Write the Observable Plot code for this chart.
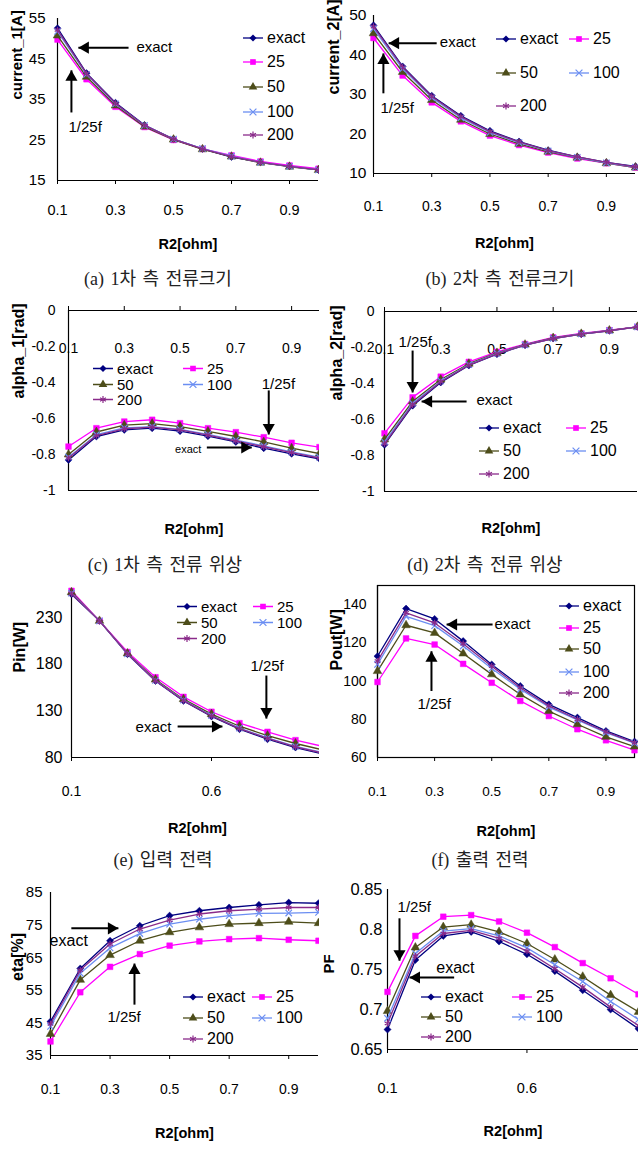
<!DOCTYPE html>
<html><head><meta charset="utf-8">
<script src="https://cdn.jsdelivr.net/npm/d3@7"></script>
<script src="https://cdn.jsdelivr.net/npm/@observablehq/plot@0.6"></script>
<style>
body{margin:0;background:#fff;}
#root{position:relative;width:638px;height:1149px;overflow:hidden;font-family:"Liberation Sans",Arial,sans-serif;}
.panel{position:absolute;}
.caption{position:absolute;transform:translate(-50%,-50%);font-family:"Liberation Serif","Noto Sans CJK KR",serif;font-size:18px;word-spacing:2px;white-space:nowrap;color:#222;}
.litem{position:absolute;display:flex;align-items:center;white-space:nowrap;transform:translateY(-50%);color:#000;}
.litem svg{margin-right:4px;}
</style></head><body><div id="root"></div>
<script>
const R2 = [0.1,0.2,0.3,0.4,0.5,0.6,0.7,0.8,0.9,1.0];
const seriesNames = ["exact","25","50","100","200"];
const seriesColors = ["#000080","#ff00ff","#4d4d1a","#6b8ef2","#8a2b8a"];
const seriesSymbols = ["diamond2","square","triangle","times","asterisk"];

const current1Values = [
 [52.6,41.5,34.2,28.7,25.2,22.8,20.8,19.5,18.5,17.6],
 [49.8,40.0,33.2,28.2,25.0,22.8,21.2,19.7,18.7,17.9],
 [50.8,40.6,33.5,28.3,25.1,22.7,20.9,19.4,18.4,17.6],
 [51.8,41.2,33.9,28.6,25.2,22.9,21.0,19.5,18.5,17.6],
 [52.2,41.4,34.0,28.6,25.2,22.8,20.9,19.5,18.5,17.6]];
const current2Values = [
 [47.5,37.1,29.7,24.6,20.8,18.1,15.9,14.2,12.8,11.8],
 [44.3,34.8,28.0,23.2,19.6,17.2,15.3,13.8,12.6,11.5],
 [45.5,35.7,28.6,23.6,20.0,17.5,15.5,14.0,12.6,11.5],
 [46.7,36.5,29.2,24.1,20.4,17.8,15.7,14.1,12.7,11.6],
 [47.2,36.9,29.5,24.4,20.6,18.0,15.8,14.2,12.8,11.7]];
const alpha1Values = [
 [-0.83,-0.70,-0.663,-0.654,-0.67,-0.698,-0.73,-0.765,-0.796,-0.824],
 [-0.756,-0.654,-0.617,-0.607,-0.626,-0.654,-0.676,-0.704,-0.735,-0.759],
 [-0.80,-0.675,-0.637,-0.628,-0.645,-0.672,-0.70,-0.73,-0.765,-0.795],
 [-0.815,-0.69,-0.652,-0.645,-0.66,-0.688,-0.72,-0.752,-0.785,-0.815],
 [-0.82,-0.695,-0.657,-0.648,-0.663,-0.692,-0.725,-0.757,-0.79,-0.82]];
const alpha2Values = [
 [-0.74,-0.523,-0.394,-0.30,-0.237,-0.187,-0.15,-0.126,-0.107,-0.085],
 [-0.677,-0.477,-0.362,-0.28,-0.224,-0.181,-0.144,-0.122,-0.104,-0.085],
 [-0.71,-0.50,-0.378,-0.29,-0.23,-0.184,-0.147,-0.124,-0.105,-0.085],
 [-0.725,-0.51,-0.386,-0.295,-0.233,-0.186,-0.149,-0.125,-0.106,-0.085],
 [-0.735,-0.518,-0.39,-0.298,-0.235,-0.187,-0.15,-0.126,-0.107,-0.085]];
const pinValues = [
 [255,226.4,190.7,162,140.7,124,110.4,99.6,90.7,83.6],
 [258.6,226.4,193,166,145,129,116.8,107.5,98.6,91.8],
 [257,226.4,191.5,163.5,142.5,126.5,113.5,103.5,95,88],
 [256,226.4,191,162.5,141.5,125,111.5,101,92,85],
 [255.5,226.4,191,162.2,141,124.5,111,100.5,91.5,84.5]];
const poutValues = [
 [113,137.9,132.5,120.9,108.7,97.4,87.8,80.9,73.9,68.3],
 [99.5,122.3,119.1,109,99.1,89.6,81.7,74.8,69,63.8],
 [105.2,129.2,125.2,114.4,103.5,93,84.3,77.4,70.8,65.7],
 [108.7,133.9,129,118.3,106.6,95.7,86.4,79.7,73,67.5],
 [110.4,135.7,130.4,119.5,107.8,96.5,87,80,73.4,67.8]];
const etaValues = [
 [45.4,61.7,70.2,74.8,77.9,79.4,80.4,81.2,81.9,81.7],
 [39.3,54.4,62.2,66.1,68.7,70,70.7,71,70.5,70.2],
 [41.6,58.2,65.8,70.2,72.8,74.3,75.3,75.6,76,75.6],
 [43.9,60.2,68,72.4,75.3,76.8,77.9,78.6,78.7,78.9],
 [44.7,61.2,69.2,73.8,76.5,78.4,79.4,79.9,80.4,80.4]];
const pfValues = [
 [0.675,0.762,0.792,0.797,0.785,0.769,0.748,0.724,0.70,0.676],
 [0.722,0.792,0.816,0.818,0.810,0.796,0.778,0.758,0.739,0.719],
 [0.698,0.7775,0.803,0.806,0.797,0.7825,0.7625,0.741,0.718,0.697],
 [0.689,0.770,0.798,0.801,0.792,0.777,0.756,0.735,0.71,0.6875],
 [0.6825,0.7667,0.795,0.799,0.789,0.773,0.751,0.728,0.703,0.680]];

const current1Ticks = [15,25,35,45,55];
const current2Ticks = [10,20,30,40,50];
const alphaTicks = [-1,-0.8,-0.6,-0.4,-0.2,0];
const pinTicks = [80,130,180,230];
const poutTicks = [60,80,100,120,140];
const etaTicks = [35,45,55,65,75,85];
const pfTicks = [0.65,0.7,0.75,0.8,0.85];
const xTicksFine = [0.1,0.3,0.5,0.7,0.9];
const xTicksCoarse = [0.1,0.6];

// annotations in data units: arrows [x1,y1,x2,y2] (x2,y2 = tip), notes [text,x,y]
const current1Arrows = [[0.345,47.8,0.172,47.8],[0.148,31.8,0.148,42.2]];
const current1Notes = [["exact",0.372,47.8],["1/25f",0.138,28.1]];
const current2Arrows = [[0.317,43,0.152,43],[0.134,30.3,0.134,40.4]];
const current2Notes = [["exact",0.328,43.2],["1/25f",0.124,26.5]];
const alpha1Arrows = [[0.596,-0.761,0.757,-0.761],[0.818,-0.444,0.818,-0.689]];
const alpha1Notes = [["exact",0.482,-0.772],["1/25f",0.793,-0.411]];
const alpha2Arrows = [[0.2,-0.217,0.2,-0.45],[0.392,-0.5,0.232,-0.5]];
const alpha2Notes = [["1/25f",0.15,-0.172],["exact",0.427,-0.494]];
const pinArrows = [[0.796,167.8,0.796,121.7],[0.479,113.2,0.639,113.2]];
const pinNotes = [["1/25f",0.739,177.5],["exact",0.329,112]];
const poutArrows = [[0.503,129.6,0.342,129.6],[0.289,94.8,0.289,115.6]];
const poutNotes = [["exact",0.51,129.6],["1/25f",0.24,88]];
const etaArrows = [[0.17,74,0.328,74],[0.382,50.6,0.382,63.2]];
const etaNotes = [["exact",0.097,70.3],["1/25f",0.291,46.7]];
const pfArrows = [[0.143,0.814,0.143,0.761],[0.339,0.74,0.179,0.74]];
const pfNotes = [["1/25f",0.136,0.8275],["exact",0.275,0.7525]];

const panels = [
 {values:current1Values, yDomain:[15,55], yTicks:current1Ticks, xTicks:xTicksFine, yLabel:"current_1[A]",
  left:0, top:0, width:319, height:262, mt:18, mr:1, mb:82, ml:57, xPad:20, yPad:12, yFont:15, xFont:14.5, yLabelFont:15,
  yLabelDx:-40, yLabelDy:0, xLabelDy:68,
  axisTop:false, frame:false, arrows:current1Arrows, notes:current1Notes, noteSizes:[15,15], legendFont:16,
  legendPos:[[243,38],[243,62],[243,87],[243,112],[243,135]], caption:"(a) 1차 측 전류크기", capX:158, capY:277},
 {values:current2Values, yDomain:[10,50], yTicks:current2Ticks, xTicks:xTicksFine, yLabel:"current_2[A]",
  left:319, top:0, width:319, height:262, mt:15, mr:3, mb:89, ml:54, xPad:24, yPad:7, yFont:15.5, xFont:14, yLabelFont:16,
  yLabelDx:-40, yLabelDy:0, xLabelDy:74,
  axisTop:false, frame:false, arrows:current2Arrows, notes:current2Notes, noteSizes:[15,15], legendFont:16,
  legendPos:[[496,39],[569,39],[496,73],[569,73],[496,106]], caption:"(b) 2차 측 전류크기", capX:500, capY:277},
 {values:alpha1Values, yDomain:[-1,0], yTicks:alphaTicks, xTicks:xTicksFine, yLabel:"alpha_1[rad]",
  left:0, top:290, width:319, height:262, mt:20, mr:0, mb:62, ml:68, xPad:0, yPad:13, yFont:14, xFont:14, yLabelFont:16,
  yLabelDx:-50, yLabelDy:-2, xLabelDy:43,
  axisTop:true, frame:false, arrows:alpha1Arrows, notes:alpha1Notes, noteSizes:[11,15], legendFont:15,
  legendPos:[[93,368],[183,368],[93,384],[183,384],[93,399]], caption:"(c) 1차 측 전류 위상", capX:165, capY:563},
 {values:alpha2Values, yDomain:[-1,0], yTicks:alphaTicks, xTicks:xTicksFine, yLabel:"alpha_2[rad]",
  left:319, top:290, width:319, height:262, mt:21, mr:1, mb:61, ml:65, xPad:0, yPad:10, yFont:14, xFont:14, yLabelFont:16,
  yLabelDx:-48, yLabelDy:-1, xLabelDy:41,
  axisTop:true, frame:false, arrows:alpha2Arrows, notes:alpha2Notes, noteSizes:[15,15], legendFont:16,
  legendPos:[[479,428],[566,428],[479,451],[566,451],[479,474]], caption:"(d) 2차 측 전류 위상", capX:485, capY:563},
 {values:pinValues, yDomain:[80,260], yTicks:pinTicks, xTicks:xTicksCoarse, yLabel:"Pin[W]",
  left:0, top:575, width:319, height:265, mt:14, mr:-4, mb:83, ml:71, xPad:25, yPad:9, yFont:16, xFont:14, yLabelFont:16,
  yLabelDx:-52, yLabelDy:-1, xLabelDy:75,
  axisTop:false, frame:false, arrows:pinArrows, notes:pinNotes, noteSizes:[15,15], legendFont:15,
  legendPos:[[177,606],[253,606],[177,622],[253,622],[177,638]], caption:"(e) 입력 전력", capX:163, capY:858},
 {values:poutValues, yDomain:[60,150], yTicks:poutTicks, xTicks:xTicksFine, yLabel:"Pout[W]",
  left:319, top:575, width:319, height:268, mt:10, mr:4, mb:86, ml:58, xPad:25, yPad:11, yFont:14, xFont:13.5, yLabelFont:16,
  yLabelDx:-41, yLabelDy:-1, xLabelDy:78,
  axisTop:false, frame:true, arrows:poutArrows, notes:poutNotes, noteSizes:[15,15], legendFont:16,
  legendPos:[[559,606],[559,628],[559,649],[559,672],[559,693]], caption:"(f) 출력 전력", capX:480, capY:858},
 {values:etaValues, yDomain:[35,85], yTicks:etaTicks, xTicks:xTicksFine, yLabel:"eta[%]",
  left:0, top:865, width:319, height:284, mt:27, mr:1, mb:94, ml:50, xPad:25, yPad:8, yFont:15, xFont:14, yLabelFont:16,
  yLabelDx:-33, yLabelDy:7, xLabelDy:82,
  axisTop:false, frame:false, arrows:etaArrows, notes:etaNotes, noteSizes:[16,15], legendFont:16,
  legendPos:[[183,997],[252,997],[183,1018],[252,1018],[183,1039]], caption:null},
 {values:pfValues, yDomain:[0.65,0.85], yTicks:pfTicks, xTicks:xTicksCoarse, yLabel:"PF",
  left:319, top:865, width:319, height:284, mt:24, mr:0, mb:100, ml:68, xPad:29, yPad:5, yFont:16.5, xFont:14.5, yLabelFont:15,
  yLabelDx:-58, yLabelDy:4, xLabelDy:86,
  axisTop:false, frame:false, arrows:pfArrows, notes:pfNotes, noteSizes:[15,16], legendFont:16,
  legendPos:[[421,997],[512,997],[421,1017],[512,1017],[421,1037]], caption:null}
];

const root = document.getElementById("root");
const symbolMap = {diamond2:d3.symbolDiamond2, square:d3.symbolSquare, triangle:d3.symbolTriangle, times:d3.symbolTimes, asterisk:d3.symbolAsterisk};
const strokeSymbols = new Set(["times","asterisk"]);

const HEAD_R = 4.5;
const HEAD_TIP = 2 * Math.sqrt((HEAD_R * HEAD_R * Math.PI) / (3 * Math.sqrt(3)));

function arrowMarks(a){
  const [x1,y1,x2,y2] = a;
  let rotate = 0, dx = 0, dy = 0;
  if (x2 > x1) { rotate = 90; dx = -HEAD_TIP; }
  else if (x2 < x1) { rotate = -90; dx = HEAD_TIP; }
  else if (y2 > y1) { rotate = 0; dy = HEAD_TIP; }
  else { rotate = 180; dy = -HEAD_TIP; }
  return [
    Plot.link([a], {x1:d=>d[0], y1:d=>d[1], x2:d=>d[2], y2:d=>d[3], stroke:"#000", strokeWidth:2}),
    Plot.dot([a], {x:d=>d[2], y:d=>d[3], symbol:"triangle", r:HEAD_R, fill:"#000", stroke:"none", rotate, dx, dy})
  ];
}

function buildPanel(p){
  const xDomain = [R2[0], R2[R2.length-1]];
  const marks = [];
  marks.push(Plot.ruleX([xDomain[0]], {stroke:"#000", strokeWidth:1.2}));
  marks.push(Plot.ruleY([p.yDomain[0]], {stroke:"#000", strokeWidth:1.2}));
  if (p.axisTop) marks.push(Plot.ruleY([p.yDomain[1]], {stroke:"#000", strokeWidth:1.2}));
  if (p.frame) marks.push(Plot.frame({stroke:"#000", strokeWidth:1.2}));
  marks.push(Plot.axisY({ticks:p.yTicks, tickSize:0, tickPadding:p.yPad, tickFormat:d=>String(d), fontSize:p.yFont, label:null}));
  if (p.axisTop) {
    marks.push(Plot.axisX({anchor:"top", ticks:p.xTicks, tickSize:5, tickFormat:()=>"", label:null}));
    marks.push(Plot.text(p.xTicks, {x:d=>d, frameAnchor:"top", dy:33, text:d=>d.toFixed(1), fontSize:p.xFont}));
  } else {
    marks.push(Plot.axisX({anchor:"bottom", ticks:p.xTicks, tickSize:4, tickPadding:p.xPad, tickFormat:d=>d.toFixed(1), fontSize:p.xFont, label:null}));
  }
  seriesNames.forEach((name,i)=>{
    const rows = R2.map((x,j)=>({x, y:p.values[i][j]}));
    marks.push(Plot.line(rows, {x:"x", y:"y", stroke:seriesColors[i], strokeWidth:1.3}));
    const sym = seriesSymbols[i];
    if (strokeSymbols.has(sym)) {
      marks.push(Plot.dot(rows, {x:"x", y:"y", symbol:sym, r:3, stroke:seriesColors[i], strokeWidth:1.2, fill:"none"}));
    } else {
      marks.push(Plot.dot(rows, {x:"x", y:"y", symbol:sym, r:3.2, fill:seriesColors[i], stroke:seriesColors[i], strokeWidth:0.5}));
    }
  });
  p.arrows.forEach(a => marks.push(...arrowMarks(a)));
  marks.push(Plot.text(p.notes, {x:d=>d[1], y:d=>d[2], text:d=>d[0], textAnchor:"start", fontSize:(d,i)=>p.noteSizes[i], fill:"#000"}));
  marks.push(Plot.text([p.yLabel], {frameAnchor:"left", dx:p.yLabelDx, dy:p.yLabelDy, rotate:-90, text:d=>d, fontWeight:"bold", fontSize:p.yLabelFont}));
  marks.push(Plot.text(["R2[ohm]"], {frameAnchor:"bottom", dy:p.xLabelDy, text:d=>d, fontWeight:"bold", fontSize:14.5}));

  const chart = Plot.plot({
    width:p.width, height:p.height,
    marginTop:p.mt, marginRight:p.mr, marginBottom:p.mb, marginLeft:p.ml,
    style:{fontFamily:"'Liberation Sans', Arial, sans-serif", fontSize:"15px", color:"#000", background:"transparent", overflow:"hidden"},
    x:{domain:xDomain},
    y:{domain:p.yDomain},
    marks
  });
  const wrap = document.createElement("div");
  wrap.className = "panel";
  wrap.style.left = p.left+"px"; wrap.style.top = p.top+"px";
  wrap.style.width = p.width+"px"; wrap.style.height = p.height+"px";
  wrap.appendChild(chart);
  root.appendChild(wrap);

  seriesNames.forEach((name,i)=>{
    const [lx,ly] = p.legendPos[i];
    const item = document.createElement("div");
    item.className = "litem";
    item.style.left = lx+"px"; item.style.top = ly+"px"; item.style.fontSize = p.legendFont+"px";
    const svg = d3.create("svg").attr("width",20).attr("height",10);
    svg.append("line").attr("x1",0).attr("x2",20).attr("y1",5).attr("y2",5).attr("stroke",seriesColors[i]).attr("stroke-width",1.3);
    const sym = seriesSymbols[i];
    const path = svg.append("path").attr("transform","translate(10,5)").attr("d", d3.symbol(symbolMap[sym], 32)());
    if (strokeSymbols.has(sym)) path.attr("fill","none").attr("stroke",seriesColors[i]).attr("stroke-width",1.2);
    else path.attr("fill",seriesColors[i]);
    item.appendChild(svg.node());
    const t = document.createElement("span"); t.textContent = name; item.appendChild(t);
    root.appendChild(item);
  });

  if (p.caption) {
    const c = document.createElement("div");
    c.className = "caption"; c.textContent = p.caption;
    c.style.left = p.capX+"px"; c.style.top = p.capY+"px";
    root.appendChild(c);
  }
}
panels.forEach(buildPanel);
</script></body></html>
